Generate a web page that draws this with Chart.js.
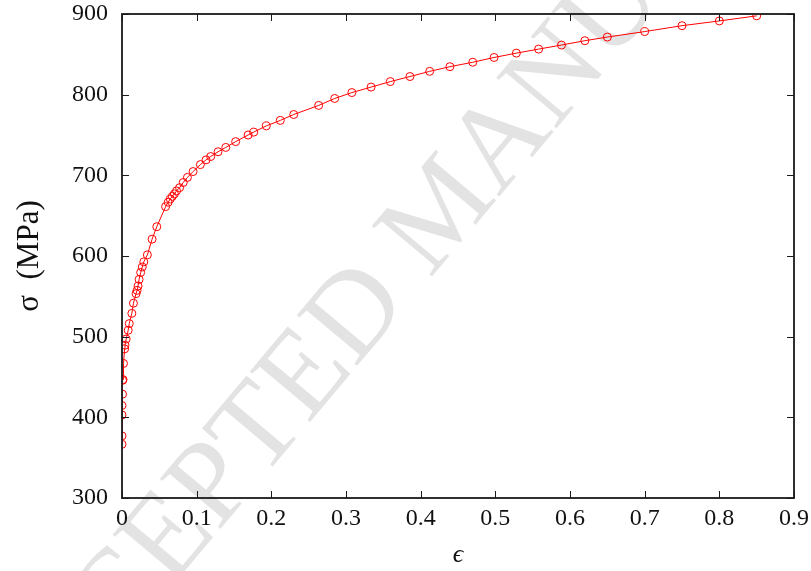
<!DOCTYPE html>
<html>
<head>
<meta charset="utf-8">
<script src="https://cdn.jsdelivr.net/npm/chart.js@4/dist/chart.umd.min.js"></script>
<style>
  html, body { margin: 0; padding: 0; background: #fff; }
  #wrap { width: 811px; height: 571px; }
</style>
</head>
<body>
<div id="wrap"><canvas id="curve"></canvas></div>
<script>
/* ── DATA ────────────────────────────────────────────────── */
const strain = [
  0, 0, 0, 0, 0.0007, 0.0007, 0.0014, 0.002, 0.0035, 0.004,
  0.0056, 0.0083, 0.0097, 0.0132, 0.0153, 0.0188, 0.0202, 0.0215, 0.0229, 0.025,
  0.0271, 0.0292, 0.034, 0.0403, 0.0466, 0.0584, 0.0618, 0.0646, 0.0674, 0.0702,
  0.073, 0.0771, 0.082, 0.0876, 0.0952, 0.105, 0.1126, 0.1188, 0.1286, 0.139,
  0.1522, 0.1689, 0.1765, 0.1932, 0.212, 0.23, 0.2634, 0.2849, 0.3079, 0.3336,
  0.3593, 0.3857, 0.4121, 0.4392, 0.4698, 0.4983, 0.5282, 0.558, 0.5886, 0.6199,
  0.65, 0.70, 0.75, 0.80, 0.85
];
const stress = [
  366.6, 377, 402.9, 414.7, 428.7, 445.9, 446.8, 466.8, 484.9, 489.4,
  497.1, 508, 516.2, 528.9, 541.5, 553.3, 557.4, 562.8, 571, 579.6,
  586.4, 592.7, 601.4, 620.9, 636.3, 661.2, 666.6, 670.7, 673.9, 677,
  680.7, 684.7, 691.1, 697.4, 704.7, 713.3, 719.2, 723.3, 729.2, 734.6,
  741.8, 750, 753.6, 761.3, 768.1, 775.4, 786.7, 795.3, 802.6, 809.4,
  816.2, 822.5, 828.9, 834.7, 840.2, 846.1, 851.5, 856.5, 861.5, 866.9,
  871.4, 878.2, 885.5, 891.4, 897.7
];
const xTicks = [0, 0.1, 0.2, 0.3, 0.4, 0.5, 0.6, 0.7, 0.8, 0.9];
const yTicks = [300, 400, 500, 600, 700, 800, 900];
const xLabel = "ϵ";
const yLabel = "σ  (MPa)";
const watermark = "ACCEPTED MANUSCRIPT";

const SERIF = "'Liberation Serif', 'DejaVu Serif', serif";

/* ── PLUGINS ─────────────────────────────────────────────── */
// faint diagonal stamp behind everything, anchored on the centre of its "M"
const stamp = {
  id: "stamp",
  beforeDraw(chart) {
    const ctx = chart.ctx;
    ctx.save();
    ctx.font = `120px ${SERIF}`;
    const head = ctx.measureText("ACCEPTED ").width;
    const mW = ctx.measureText("M").width;
    ctx.translate(440, 218);
    ctx.rotate(-50 * Math.PI / 180);
    ctx.fillStyle = "#e3e3e3";
    ctx.textAlign = "left";
    ctx.textBaseline = "middle";
    ctx.fillText(watermark, -(head + mW / 2), 0);
    ctx.restore();
  }
};

// box frame + inward ticks on all four sides
const frame = {
  id: "frame",
  afterDraw(chart) {
    const { ctx, chartArea: a, scales: { x, y } } = chart;
    const len = 7;
    ctx.save();
    ctx.strokeStyle = "#1a1a1a";
    ctx.lineWidth = 1;
    ctx.beginPath();
    xTicks.forEach(v => {
      const px = Math.round(x.getPixelForValue(v)) + 0.5;
      ctx.moveTo(px, a.bottom); ctx.lineTo(px, a.bottom - len);
      ctx.moveTo(px, a.top);    ctx.lineTo(px, a.top + len);
    });
    yTicks.forEach(v => {
      const py = Math.round(y.getPixelForValue(v)) + 0.5;
      ctx.moveTo(a.left, py);  ctx.lineTo(a.left + len, py);
      ctx.moveTo(a.right, py); ctx.lineTo(a.right - len, py);
    });
    ctx.stroke();
    ctx.lineWidth = 1.8;
    ctx.strokeRect(a.left, a.top, a.right - a.left, a.bottom - a.top);
    ctx.restore();
  }
};

/* ── CHART ───────────────────────────────────────────────── */
new Chart(document.getElementById("curve"), {
  type: "line",
  data: {
    datasets: [{
      data: strain.map((e, i) => ({ x: e, y: stress[i] })),
      borderColor: "#ff0000",
      borderWidth: 1,
      pointStyle: "circle",
      pointRadius: 4,
      pointBorderWidth: 1,
      pointBorderColor: "#ff0000",
      pointBackgroundColor: "rgba(0,0,0,0)",
      tension: 0
    }]
  },
  options: {
    responsive: true,
    maintainAspectRatio: false,
    animation: false,
    layout: { padding: { top: 14, right: 17, left: 0, bottom: 0 } },
    plugins: { legend: { display: false }, tooltip: { enabled: false } },
    scales: {
      x: {
        type: "linear",
        min: 0, max: 0.9,
        afterBuildTicks: s => { s.ticks = xTicks.map(v => ({ value: v })); },
        afterFit: s => { s.height = 73; s.paddingLeft = 0; s.paddingRight = 0; },
        grid: { display: false, drawTicks: false },
        border: { display: false },
        ticks: {
          color: "#111",
          padding: 6,
          maxRotation: 0,
          font: { family: SERIF, size: 24 },
          callback: v => String(Number(v.toFixed(1)))
        },
        title: {
          display: true,
          text: xLabel,
          color: "#111",
          font: { family: SERIF, size: 26, style: "italic" },
          padding: { top: 0, bottom: 0 }
        }
      },
      y: {
        min: 300, max: 900,
        afterBuildTicks: s => { s.ticks = yTicks.map(v => ({ value: v })); },
        afterFit: s => { s.width = 122; s.paddingTop = 0; s.paddingBottom = 0; },
        grid: { display: false, drawTicks: false },
        border: { display: false },
        ticks: {
          color: "#111",
          padding: 14,
          font: { family: SERIF, size: 24 }
        },
        title: {
          display: true,
          text: yLabel,
          color: "#111",
          font: { family: SERIF, size: 31 },
          padding: { top: 11, bottom: 0 }
        }
      }
    }
  },
  plugins: [stamp, frame]
});
</script>
</body>
</html>
